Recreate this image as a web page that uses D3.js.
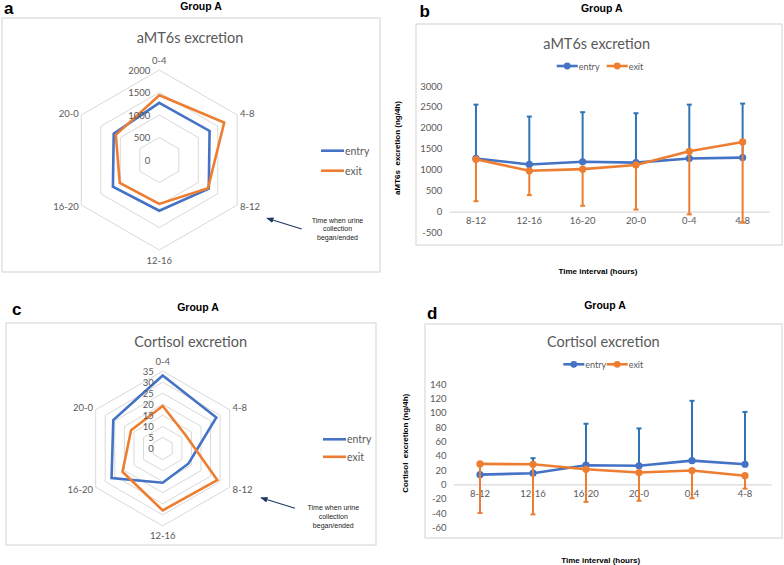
<!DOCTYPE html>
<html>
<head>
<meta charset="utf-8">
<script src="https://cdn.jsdelivr.net/npm/d3@7"></script>
<style>
  body { margin: 0; background: #fff; }
  svg { display: block; }
</style>
</head>
<body>
<div id="fig"></div>
<script>
// time windows (hours)
const radarCats = ["0-4", "4-8", "8-12", "12-16", "16-20", "20-0"];
const lineCats = ["8-12", "12-16", "16-20", "20-0", "0-4", "4-8"];
const seriesNames = ["entry", "exit"];

// aMT6s excretion (ng/4h), lineCats order
const aEntry = [1270, 1127, 1190, 1170, 1270, 1290];
const aExit = [1250, 975, 1015, 1115, 1440, 1665];
const aEntryHigh = [2555, 2270, 2375, 2350, 2555, 2580];
const aExitLow = [250, 395, 140, 50, -65, -265];
const aRadarTicks = [0, 500, 1000, 1500, 2000];
const aLineTicks = [-500, 0, 500, 1000, 1500, 2000, 2500, 3000];

// cortisol excretion (ng/4h), lineCats order
const cEntry = [13.5, 15.5, 26.7, 25.8, 33, 28];
const cExit = [28.5, 28, 21, 16.5, 19.2, 12];
const cEntryHigh = [26, 36.5, 84.5, 78, 116.5, 101];
const cExitLow = [-40, -42, -24.5, -23, -19.5, -6];
const cRadarTicks = [0, 5, 10, 15, 20, 25, 30, 35];
const cLineTicks = [-60, -40, -20, 0, 20, 40, 60, 80, 100, 120, 140];

const blue = "#4472C4", orange = "#ED7D31", errBlue = "#2E75B6";
const gray = "#595959", grid = "#D9D9D9";
const font = "Lato, 'Open Sans', sans-serif";
const boldFont = "'Liberation Sans', Arial, sans-serif";

const svg = d3.select("#fig").append("svg")
    .attr("width", 784)
    .attr("height", 565);

// cadre + titres communs
function frame(box, letter, groupPos, title, titlePos) {
    svg.append("rect")
        .attr("x", box[0]).attr("y", box[1])
        .attr("width", box[2] - box[0]).attr("height", box[3] - box[1])
        .attr("fill", "#fff").attr("stroke", grid).attr("stroke-width", 1.2);
    svg.append("text")
        .attr("x", letter[0]).attr("y", letter[1])
        .attr("font-family", boldFont).attr("font-weight", "bold").attr("font-size", 17)
        .text(letter[2]);
    svg.append("text")
        .attr("x", groupPos[0]).attr("y", groupPos[1])
        .attr("text-anchor", "middle").attr("dominant-baseline", "central")
        .attr("font-family", boldFont).attr("font-weight", "bold").attr("font-size", 10.5)
        .text("Group A");
    svg.append("text")
        .attr("x", titlePos[0]).attr("y", titlePos[1])
        .attr("text-anchor", "middle").attr("dominant-baseline", "central")
        .attr("font-family", font).attr("font-size", 14.5).attr("fill", gray)
        .text(title);
}

// radar (panels a & c)
function radar(cx, cy, R, ticks, entry, exit, legend, note) {
    const g = svg.append("g").attr("transform", "translate(" + cx + "," + cy + ")");
    const r = d3.scaleLinear().domain([0, d3.max(ticks)]).range([0, R]);
    const ang = d3.scalePoint().domain(radarCats).range([0, 2 * Math.PI * 5 / 6]);
    const ring = d3.lineRadial().curve(d3.curveLinearClosed);

    ticks.filter(t => t > 0).forEach(t => {
        g.append("path")
            .attr("d", ring(radarCats.map(c => [ang(c), r(t)])))
            .attr("fill", "none").attr("stroke", grid).attr("stroke-width", 1);
    });

    const pick = vals => radarCats.map(c => vals[lineCats.indexOf(c)]);
    [[entry, blue], [exit, orange]].forEach(([vals, col]) => {
        g.append("path")
            .attr("d", ring(pick(vals).map((v, i) => [ang(radarCats[i]), r(v)])))
            .attr("fill", "none").attr("stroke", col).attr("stroke-width", 2.6)
            .attr("stroke-linejoin", "miter");
    });

    ticks.forEach(t => {
        g.append("text")
            .attr("x", -9).attr("y", -r(t))
            .attr("text-anchor", "end").attr("dominant-baseline", "central")
            .attr("font-family", font).attr("font-size", 9.5).attr("fill", gray)
            .text(t);
    });

    radarCats.forEach(c => {
        const a = ang(c), d = R + 10;
        const x = Math.sin(a) * d, y = -Math.cos(a) * d;
        const anchor = Math.abs(x) < 1 ? "middle" : (x > 0 ? "start" : "end");
        g.append("text")
            .attr("x", Math.abs(x) < 1 ? 0 : x + (x > 0 ? -6 : 6))
            .attr("y", Math.abs(x) < 1 ? y : y * 0.93)
            .attr("text-anchor", anchor).attr("dominant-baseline", "central")
            .attr("font-family", font).attr("font-size", 9.5).attr("fill", gray)
            .text(c);
    });

    // légende
    seriesNames.forEach((s, i) => {
        const ly = legend[1] + i * legend[2];
        svg.append("line")
            .attr("x1", legend[0]).attr("x2", legend[0] + 23)
            .attr("y1", ly).attr("y2", ly)
            .attr("stroke", i ? orange : blue).attr("stroke-width", 2.6);
        svg.append("text")
            .attr("x", legend[0] + 24).attr("y", ly)
            .attr("dominant-baseline", "central")
            .attr("font-family", font).attr("font-size", 10.5).attr("fill", gray)
            .text(s);
    });

    // flèche + note
    svg.append("line")
        .attr("x1", note[0]).attr("y1", note[1]).attr("x2", note[2]).attr("y2", note[3])
        .attr("stroke", "#203864").attr("stroke-width", 1.2)
        .attr("marker-end", "url(#arrow)");
    ["Time when urine", "collection", "began/ended"].forEach((t, i) => {
        svg.append("text")
            .attr("x", note[4]).attr("y", note[5] + i * 8.8)
            .attr("text-anchor", "middle").attr("dominant-baseline", "central")
            .attr("font-family", boldFont).attr("font-size", 7).attr("fill", "#222")
            .text(t);
    });
}

// courbes avec barres d'erreur (panels b & d)
function lineChart(xr, yr, domain, ticks, entry, exit, high, low, legend, yTitle, yTitlePos, xTitlePos) {
    const x = d3.scaleBand().domain(lineCats).range(xr);
    const y = d3.scaleLinear().domain(domain).range(yr);
    const cx = c => x(c) + x.bandwidth() / 2;

    const yAxis = svg.append("g")
        .attr("transform", "translate(" + xr[0] + ",0)")
        .call(d3.axisLeft(y).tickValues(ticks).tickFormat(d => String(d)).tickSize(0).tickPadding(7));
    yAxis.select(".domain").remove();
    yAxis.selectAll("text").attr("font-family", font).attr("font-size", 9.5).attr("fill", gray);

    const xAxis = svg.append("g")
        .attr("transform", "translate(0," + y(0) + ")")
        .call(d3.axisBottom(x).tickSize(0).tickPadding(6));
    xAxis.select(".domain").attr("stroke", grid).attr("stroke-width", 1.2);
    xAxis.selectAll("text").attr("font-family", font).attr("font-size", 9.5).attr("fill", gray);

    const line = d3.line().x((d, i) => cx(lineCats[i])).y(d => y(d));

    [[entry, high, blue, errBlue], [exit, low, orange, orange]].forEach(([vals, ends, col, ecol]) => {
        const eg = svg.append("g").attr("stroke", ecol).attr("stroke-width", 2);
        vals.forEach((v, i) => {
            const xc = cx(lineCats[i]);
            eg.append("line").attr("x1", xc).attr("x2", xc).attr("y1", y(v)).attr("y2", y(ends[i]));
            eg.append("line").attr("x1", xc - 2.5).attr("x2", xc + 2.5).attr("y1", y(ends[i])).attr("y2", y(ends[i]));
        });
        svg.append("path").datum(vals)
            .attr("d", line)
            .attr("fill", "none").attr("stroke", col).attr("stroke-width", 2.6);
        svg.append("g").selectAll("circle")
            .data(vals)
            .enter().append("circle")
            .attr("cx", (d, i) => cx(lineCats[i]))
            .attr("cy", d => y(d))
            .attr("r", 3.6)
            .attr("fill", col);
    });

    seriesNames.forEach((s, i) => {
        const lx = legend[0] + i * legend[2];
        svg.append("line")
            .attr("x1", lx).attr("x2", lx + 21)
            .attr("y1", legend[1]).attr("y2", legend[1])
            .attr("stroke", i ? orange : blue).attr("stroke-width", 2.6);
        svg.append("circle")
            .attr("cx", lx + 10.5).attr("cy", legend[1]).attr("r", 3.4)
            .attr("fill", i ? orange : blue);
        svg.append("text")
            .attr("x", lx + 22).attr("y", legend[1])
            .attr("dominant-baseline", "central")
            .attr("font-family", font).attr("font-size", 9).attr("fill", gray)
            .text(s);
    });

    svg.append("text")
        .attr("transform", "translate(" + yTitlePos[0] + "," + yTitlePos[1] + ") rotate(-90)")
        .attr("text-anchor", "middle").attr("dominant-baseline", "central")
        .attr("font-family", boldFont).attr("font-weight", "bold").attr("font-size", 8)
        .attr("xml:space", "preserve")
        .text(yTitle);
    svg.append("text")
        .attr("x", xTitlePos[0]).attr("y", xTitlePos[1])
        .attr("text-anchor", "middle").attr("dominant-baseline", "central")
        .attr("font-family", boldFont).attr("font-weight", "bold").attr("font-size", 8)
        .text("Time interval (hours)");
}

svg.append("defs").append("marker")
    .attr("id", "arrow")
    .attr("viewBox", "0 0 10 10")
    .attr("refX", 9).attr("refY", 5)
    .attr("markerWidth", 6).attr("markerHeight", 6)
    .attr("orient", "auto")
  .append("path")
    .attr("d", "M0,1 L10,5 L0,9 z")
    .attr("fill", "#203864");

// a
frame([2, 18, 380, 272], [4, 14, "a"], [201, 6], "aMT6s excretion", [190, 37.5]);
radar(159.3, 160, 90, aRadarTicks, aEntry, aExit, [321, 150.7, 20],
      [301.7, 229, 267, 218.3, 337.5, 220]);

// c
frame([6, 323, 376, 545], [12, 315, "c"], [198, 306.5], "Cortisol excretion", [190.7, 341.5]);
radar(162.7, 448.5, 77.4, cRadarTicks, cEntry, cExit, [323, 439.3, 17.5],
      [295, 508.3, 261, 497.7, 333.3, 507.7]);

// b
frame([416, 24, 782, 245], [419.5, 17, "b"], [601.7, 7.5], "aMT6s excretion", [596.7, 43.3]);
lineChart([449.3, 769.3], [232.6, 86], [-500, 3000], aLineTicks, aEntry, aExit, aEntryHigh, aExitLow,
          [556.7, 66, 50], "aMT6s  excretion (ng/4h)", [397.3, 148], [598, 271.7]);

// d
frame([425, 324, 782, 538], [427, 319, "d"], [605, 305], "Cortisol excretion", [603.3, 341.7]);
lineChart([453.5, 771.5], [527.3, 384], [-60, 140], cLineTicks, cEntry, cExit, cEntryHigh, cExitLow,
          [563.3, 364.3, 43.4], "Cortisol  excretion (ng/4h)", [405, 443.3], [600.7, 560]);
</script>
</body>
</html>
